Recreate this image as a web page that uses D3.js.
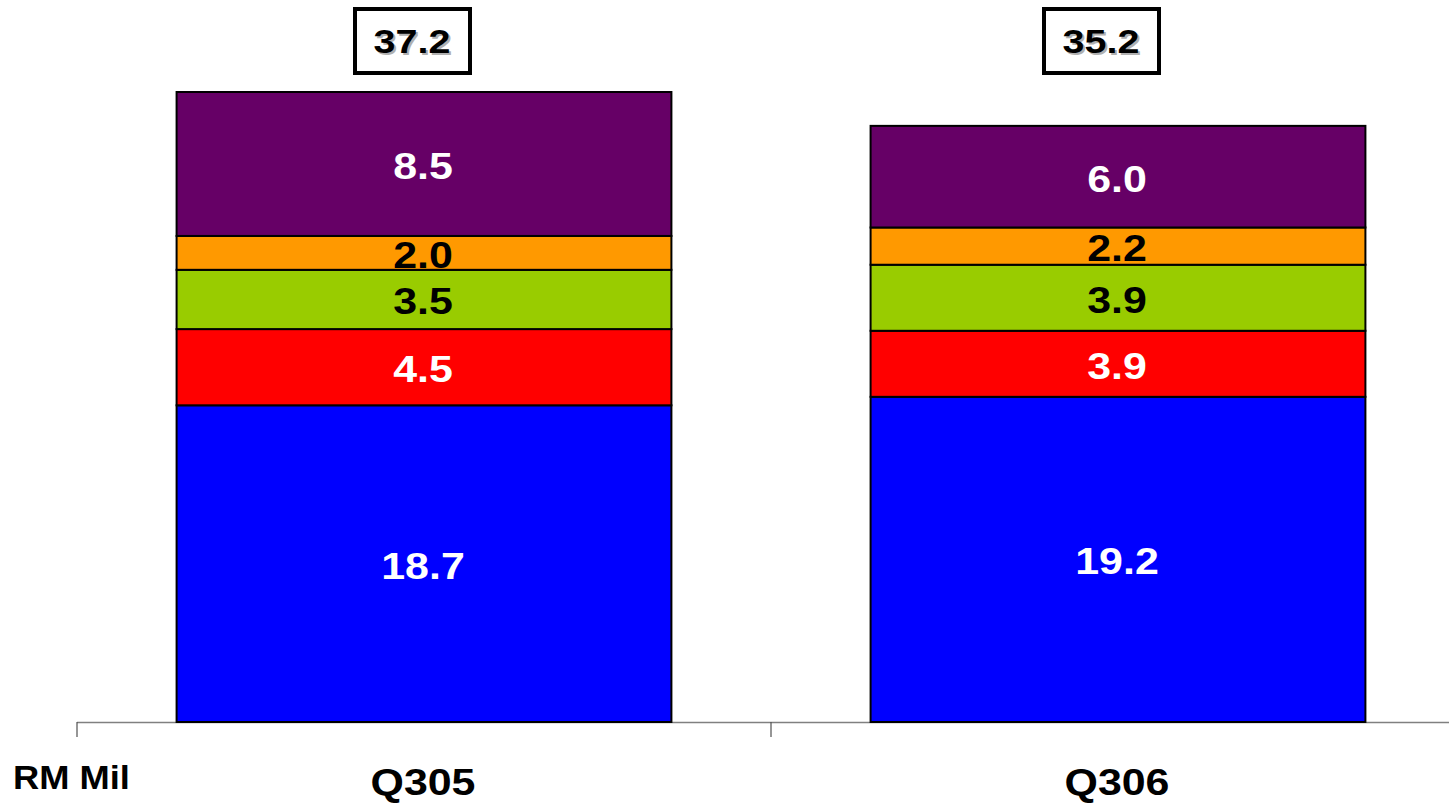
<!DOCTYPE html>
<html>
<head>
<meta charset="utf-8">
<script src="https://cdn.jsdelivr.net/npm/d3@7"></script>
<style>
  html, body { margin: 0; padding: 0; background: #ffffff; }
  svg { display: block; }
  text { font-family: "Liberation Sans", Arial, sans-serif; font-weight: bold; }
</style>
</head>
<body>
<svg id="chart" width="1449" height="803"></svg>
<script>
// ---- data ----
const categories = ["Q305", "Q306"];
const seriesNames = ["Segment 1", "Segment 2", "Segment 3", "Segment 4", "Segment 5"];
const segment1 = [18.7, 19.2];
const segment2 = [4.5, 3.9];
const segment3 = [3.5, 3.9];
const segment4 = [2.0, 2.2];
const segment5 = [8.5, 6.0];
const totals = [37.2, 35.2];
const unitLabel = "RM Mil";

// ---- styles ----
const colors = ["#0000FF", "#FF0000", "#99CC00", "#FF9900", "#660066"];
const labelColors = ["#FFFFFF", "#FFFFFF", "#000000", "#000000", "#FFFFFF"];
const stretch = 1.16;
const boxOffsets = [-12, -17];

const svg = d3.select("#chart");
const seriesValues = [segment1, segment2, segment3, segment4, segment5];

const rows = categories.map((c, i) => {
  const r = { category: c };
  seriesNames.forEach((s, k) => { r[s] = seriesValues[k][i]; });
  return r;
});
const stacked = d3.stack().keys(seriesNames)(rows);

const x = d3.scaleBand().domain(categories).range([77, 1465]).paddingInner(0).paddingOuter(0);
const y = d3.scaleLinear().domain([0, d3.max(totals)]).range([722, 92]);
const barFrac = 0.713;
const barW = x.bandwidth() * barFrac;
const barX = c => x(c) + (x.bandwidth() - barW) / 2;
const cx = c => x(c) + x.bandwidth() / 2;

// axis line and ticks
const axisG = svg.append("g");
axisG.append("line")
  .attr("x1", x.range()[0]).attr("x2", x.range()[1])
  .attr("y1", y(0) + 0.5).attr("y2", y(0) + 0.5)
  .attr("stroke", "#808080").attr("stroke-width", 1.5);
const tickPos = categories.map(c => x(c)).concat([x.range()[1]]);
axisG.selectAll("line.tick").data(tickPos).enter().append("line")
  .attr("class", "tick")
  .attr("x1", d => d).attr("x2", d => d)
  .attr("y1", y(0)).attr("y2", y(0) + 15)
  .attr("stroke", "#505050").attr("stroke-width", 1.2);

// bars
const layers = svg.append("g").selectAll("g").data(stacked).enter().append("g")
  .attr("fill", (d, k) => colors[k]);
layers.selectAll("rect").data(d => d).enter().append("rect")
  .attr("x", d => barX(d.data.category))
  .attr("width", barW)
  .attr("y", d => y(d[1]))
  .attr("height", d => y(d[0]) - y(d[1]))
  .attr("stroke", "#000").attr("stroke-width", 2);

// segment labels
stacked.forEach((layer, k) => {
  svg.append("g").selectAll("text").data(layer).enter().append("text")
    .attr("transform", d => `translate(${cx(d.data.category) - 1},${(y(d[0]) + y(d[1])) / 2 + 15}) scale(${stretch},1)`)
    .attr("text-anchor", "middle")
    .attr("font-size", 37)
    .attr("fill", labelColors[k])
    .text(d => d3.format(".1f")(d[1] - d[0]));
});

// total boxes
const totG = svg.append("g").selectAll("g").data(categories).enter().append("g")
  .attr("transform", (c, i) => `translate(${cx(c) + boxOffsets[i]},0)`);
totG.append("rect")
  .attr("x", -57).attr("y", 9).attr("width", 115).attr("height", 64)
  .attr("fill", "#fff").attr("stroke", "#000").attr("stroke-width", 4);
totG.append("text")
  .attr("transform", `translate(2,55) scale(${stretch},1)`)
  .attr("text-anchor", "middle").attr("font-size", 34).attr("fill", "#b0b0b0")
  .text((c, i) => d3.format(".1f")(totals[i]));
totG.append("text")
  .attr("transform", `translate(0,53) scale(${stretch},1)`)
  .attr("text-anchor", "middle").attr("font-size", 34).attr("fill", "#000")
  .text((c, i) => d3.format(".1f")(totals[i]));

// category labels
svg.append("g").selectAll("text").data(categories).enter().append("text")
  .attr("transform", c => `translate(${cx(c) - 1},795) scale(${stretch},1)`)
  .attr("text-anchor", "middle").attr("font-size", 37).attr("fill", "#000")
  .text(c => c);

// unit label
svg.append("text")
  .attr("transform", `translate(13,789) scale(1.1,1)`)
  .attr("font-size", 33).attr("fill", "#000")
  .text(unitLabel);
</script>
</body>
</html>
